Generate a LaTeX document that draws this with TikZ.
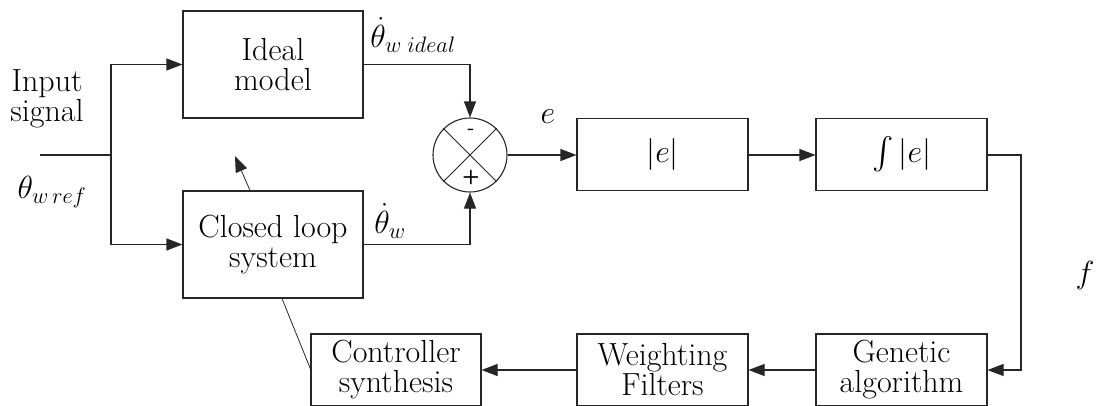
\RequirePackage{fix-cm}
\documentclass[tikz,border=0pt]{standalone}
\DeclareFontShape{OMX}{cmex}{m}{n}{<->cmex10}{}
\usetikzlibrary{arrows.meta,calc}
\begin{document}
\begin{tikzpicture}[x=1pt,y=-1pt,
  line width=1.1pt, draw=black!85,
  every node/.style={font=\fontsize{32}{30}\selectfont},
  blk/.style={draw, rectangle, inner sep=0pt, align=center},
  bigblk/.style={blk, minimum width=180pt, minimum height=107pt},
  smallblk/.style={blk, minimum width=171pt, minimum height=72pt},
  arr/.style={-{Triangle[length=16pt,width=12pt]}},
  lbl/.style={inner sep=0pt}]
\useasboundingbox (0,0) rectangle (1099,405);
\node[bigblk] (ideal) at (273,64.5) {Ideal\\model};
\node[bigblk] (closed) at (273,244.5) {Closed loop\\system};
\node[draw, circle, minimum size=74pt, inner sep=0pt] (sum) at (470,155) {};
\draw[line width=0.8pt] (sum.north west) -- (sum.south east);
\draw[line width=0.8pt] (sum.north east) -- (sum.south west);
\node[lbl, font=\sffamily\bfseries\fontsize{20}{20}\selectfont] (minus) at (471,132) {-};
\node[lbl, font=\sffamily\bfseries\fontsize{20}{20}\selectfont] (plus) at (471,177) {+};
\node[smallblk] (abs) at (662.5,154.5) {$|e|$};
\node[smallblk] (int) at (901.5,154.5) {$\int|e|$};
\node[smallblk] (gen) at (901.5,370) {Genetic\\algorithm};
\node[smallblk] (wf) at (662.5,370) {Weighting\\Filters};
\node[smallblk, minimum width=170pt] (cs) at (396,370) {Controller\\synthesis};
% labels
\node[lbl, align=center] (insig) at (47,99) {Input\\signal};
\node[lbl] (thref) at (52,192) {$\theta_{w\,ref}$};
\node[lbl] (thid) at (413,35) {$\dot\theta_{w\;ideal}$};
\node[lbl] (thw) at (390,221) {$\dot\theta_{w}$};
\node[lbl] (elbl) at (548,117) {$e$};
\node[lbl] (flbl) at (1085,275) {$f$};
% connectors
\coordinate (in) at (40,155);
\coordinate (jn) at (111,155);
\coordinate (fc) at (1021,155);
\coordinate (adjs) at ($(closed.north)+(-23,0)$);
\coordinate (adje) at (235,156);
\coordinate (csl) at ($(closed.south)+(9,0)$);
\draw (in) -- (jn);
\draw[arr] (jn) |- (ideal.west);
\draw[arr] (jn) |- (closed.west);
\draw[arr] (ideal.east) -| (sum.north);
\draw[arr] (closed.east) -| (sum.south);
\draw[arr] (sum.east) -- (abs.west |- sum.east);
\draw[arr] (abs.east |- sum.east) -- (int.west |- sum.east);
\draw[arr] (int.east |- sum.east) -- (fc) |- (gen.east);
\draw[arr] (gen.west) -- (wf.east);
\draw[arr] (wf.west) -- (cs.east);
\draw[arr, line width=0.8pt] (adjs) -- (adje);
\draw[line width=0.8pt] (csl) -- ($(cs.west)+(0,-1)$);
\end{tikzpicture}
\end{document}
